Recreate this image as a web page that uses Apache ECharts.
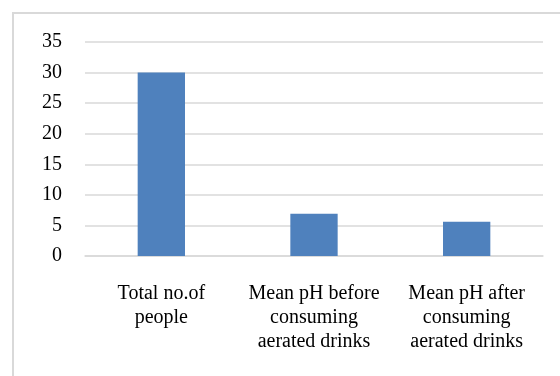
<!DOCTYPE html>
<html>
<head>
<meta charset="utf-8">
<script src="https://cdn.jsdelivr.net/npm/echarts@6/dist/echarts.min.js"></script>
<style>html,body{margin:0;padding:0;background:#fff}#c{width:560px;height:376px}</style>
</head>
<body>
<div id="c"></div>
<script>
const categories = ["Total no.of\npeople", "Mean pH before\nconsuming\naerated drinks", "Mean pH after\nconsuming\naerated drinks"];
const values = [30, 6.9, 5.6];
const yMin = 0, yMax = 35, yStep = 5;

const chart = echarts.init(document.getElementById('c'), null, {renderer: 'canvas'});
const font = 'Liberation Serif';
chart.setOption({
  animation: false,
  backgroundColor: '#ffffff',
  graphic: [{
    type: 'rect', silent: true,
    shape: {x: 13, y: 13, width: 700, height: 500},
    style: {fill: 'none', stroke: '#d9d9d9', lineWidth: 2}
  }],
  grid: {left: 85, right: 17, top: 42, bottom: 120},
  xAxis: {
    type: 'category',
    data: categories,
    axisLine: {show: true, lineStyle: {color: '#d9d9d9', width: 1.5}},
    axisTick: {show: false},
    axisLabel: {color: '#000', fontFamily: font, fontSize: 20, lineHeight: 24, margin: 26, interval: 0}
  },
  yAxis: {
    type: 'value',
    min: yMin, max: yMax, interval: yStep,
    axisLine: {show: false},
    axisTick: {show: false},
    splitLine: {lineStyle: {color: '#d9d9d9', width: 1.5}},
    axisLabel: {color: '#000', fontFamily: font, fontSize: 20, margin: 23}
  },
  series: [{
    type: 'bar',
    data: values,
    barWidth: '31%',
    itemStyle: {color: '#4f81bd'}
  }]
});
</script>
</body>
</html>
